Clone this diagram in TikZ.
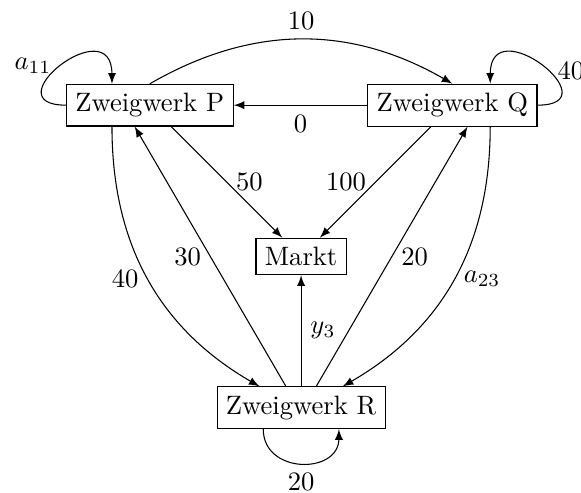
\documentclass[tikz,border=0pt]{standalone}
\begin{document}
\begin{tikzpicture}[>=latex, werk/.style={draw, rectangle}]
  \useasboundingbox (-1.98,-1.12) rectangle (5.70,5.39);
  % Zweigwerke und Markt
  \node[werk] (P) at (0,4) {Zweigwerk P};
  \node[werk] (Q) at (4,4) {Zweigwerk Q};
  \node[werk] (M) at (2,2) {Markt};
  \node[werk] (R) at (2,0) {Zweigwerk R};

  % Eigenverbrauch
  \draw[->] (P.west) to[out=180, in=90, distance=10mm] node[pos=0.5, left] {$a_{11}$} ([xshift=-5mm]P.north);
  \draw[->] (Q.east) to[out=0, in=90, distance=10mm] node[pos=0.45, right] {40} ([xshift=5mm]Q.north);
  \draw[->] ([xshift=-5mm]R.south) to[out=-90, in=-90, distance=6mm] node[below] {20} ([xshift=5mm]R.south);

  % Lieferungen zwischen den Werken
  \draw[->] (P.north) to[bend left=30] node[above] {10} (Q.north);
  \draw[->] (Q) -- node[below] {0} (P);
  \draw[->] ([xshift=-5mm]P.south) to[out=-90, in=150] node[left] {40} ([xshift=-5.5mm]R.north);
  \draw[->] ([xshift=-2mm]R.north) -- node[left] {30} ([xshift=-2mm]P.south);
  \draw[->] ([xshift=5mm]Q.south) to[out=-90, in=30] node[right] {$a_{23}$} ([xshift=5.5mm]R.north);
  \draw[->] ([xshift=2mm]R.north) -- node[right] {20} ([xshift=2mm]Q.south);

  % Lieferungen an den Markt
  \draw[->] (P) -- node[right] {50} (M);
  \draw[->] (Q) -- node[left] {100} (M);
  \draw[->] (R) -- node[right] {$y_3$} (M);
\end{tikzpicture}
\end{document}
